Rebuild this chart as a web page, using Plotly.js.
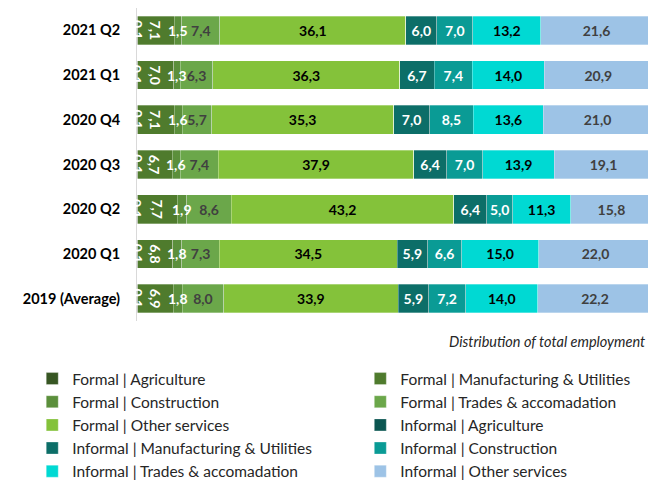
<!DOCTYPE html>
<html><head><meta charset="utf-8">
<script src="https://cdn.plot.ly/plotly-3.0.1.min.js"></script>
<style>html,body{margin:0;padding:0;background:#fff;}#chart{width:648px;height:488px;}</style>
</head><body><div id="chart"></div>
<script>
const categories = ['2019 (Average)','2020 Q1','2020 Q2','2020 Q3','2020 Q4','2021 Q1','2021 Q2'];
const seriesNames = ['Formal | Agriculture','Formal | Manufacturing & Utilities','Formal | Construction','Formal | Trades & accomadation','Formal | Other services','Informal | Agriculture','Informal | Manufacturing & Utilities','Informal | Construction','Informal | Trades & accomadation','Informal | Other services'];
const formalAgriculture   = [0.1, 0.1, 0.1, 0.1, 0.1, 0.1, 0.1];
const formalManufacturing = [6.9, 6.8, 7.7, 6.7, 7.1, 7.0, 7.1];
const formalConstruction  = [1.8, 1.8, 1.9, 1.6, 1.6, 1.3, 1.5];
const formalTrades        = [8.0, 7.3, 8.6, 7.4, 5.7, 6.3, 7.4];
const formalOther         = [33.9, 34.5, 43.2, 37.9, 35.3, 36.3, 36.1];
const informalAgriculture = [0.0, 0.0, 0.0, 0.0, 0.0, 0.0, 0.0];
const informalManufacturing = [5.9, 5.9, 6.4, 6.4, 7.0, 6.7, 6.0];
const informalConstruction  = [7.2, 6.6, 5.0, 7.0, 8.5, 7.4, 7.0];
const informalTrades        = [14.0, 15.0, 11.3, 13.9, 13.6, 14.0, 13.2];
const informalOther         = [22.2, 22.0, 15.8, 19.1, 21.0, 20.9, 21.6];

const values = [formalAgriculture, formalManufacturing, formalConstruction, formalTrades, formalOther,
  informalAgriculture, informalManufacturing, informalConstruction, informalTrades, informalOther];
const colors = ['#375623','#4f7b2d','#5b8f3b','#6ba74a','#84c23a','#0b5651','#0c6e68','#0a9b95','#00d9d3','#9dc3e6'];
// text colour per series; null = label drawn as annotation (or not at all)
const textColors = [null,'#ffffff',null,'#404040','#000000',null,'#ffffff','#ffffff','#000000','#404040'];
const textAngles = [0,90,0,0,0,0,0,0,0,0];
const LBL = {family: 'Lato', size: 14, weight: 700};

const traces = values.map((v, i) => ({
  type: 'bar', orientation: 'h', y: categories, x: v, name: seriesNames[i],
  marker: {color: colors[i], line: {color: 'rgba(255,255,255,0.5)', width: 0.6}},
  texttemplate: textColors[i] ? '%{x:.1f}' : '',
  textposition: textColors[i] ? 'inside' : 'none',
  insidetextanchor: 'middle',
  textangle: textAngles[i],
  constraintext: 'none',
  textfont: Object.assign({}, LBL, {color: textColors[i] || '#fff'}),
  hoverinfo: 'skip',
  legend: (i % 2 === 0) ? 'legend' : 'legend2',
  legendgroup: 'g' + i
}));

// labels that overflow their thin segments are drawn on top as annotations, placed via data coordinates
const fmt = v => v.toFixed(1).replace('.', ',');
const annotations = [];
categories.forEach((c, k) => {
  annotations.push({xref: 'x', yref: 'y', x: formalAgriculture[k] / 2, y: c, text: fmt(formalAgriculture[k]),
    textangle: 90, showarrow: false, font: Object.assign({}, LBL, {color: '#ffffff'})});
  annotations.push({xref: 'x', yref: 'y',
    x: formalAgriculture[k] + formalManufacturing[k] + formalConstruction[k] / 2, y: c,
    text: fmt(formalConstruction[k]), showarrow: false, font: Object.assign({}, LBL, {color: '#ffffff'})});
});
annotations.push({
  xref: 'paper', yref: 'paper', x: 0.998, y: -0.064, xanchor: 'right', yanchor: 'middle',
  text: '<i>Distribution of total employment</i>', showarrow: false,
  font: {family: 'Lato', size: 14.5, color: '#262626'}
});

const legendCommon = {
  orientation: 'v', traceorder: 'grouped', tracegroupgap: 0,
  font: {family: 'Lato', size: 15.5, color: '#262626'},
  bgcolor: 'rgba(0,0,0,0)', borderwidth: 0, itemwidth: 30,
  xanchor: 'left', yanchor: 'top', y: -0.131, itemclick: false, itemdoubleclick: false
};

const layout = {
  width: 648, height: 488,
  margin: {l: 137, r: 0, t: 8, b: 152},
  paper_bgcolor: '#fff', plot_bgcolor: '#fff',
  barmode: 'stack', bargap: 0.36,
  separators: ',.',
  showlegend: true,
  uniformtext: {mode: 'show', minsize: 14},
  font: {family: 'Lato', color: '#000'},
  xaxis: {range: [0, 99.2], visible: false, fixedrange: true},
  yaxis: {type: 'category', showline: true, linecolor: '#d9d9d9', linewidth: 1,
    showgrid: false, ticks: '', ticklabelstandoff: 13,
    tickfont: {family: 'Lato', size: 14.5, weight: 700, color: '#000'}, fixedrange: true},
  legend: Object.assign({}, legendCommon, {x: -0.205}),
  legend2: Object.assign({}, legendCommon, {x: 0.437}),
  annotations: annotations
};

Plotly.newPlot('chart', traces, layout, {displayModeBar: false, staticPlot: true});
</script></body></html>
